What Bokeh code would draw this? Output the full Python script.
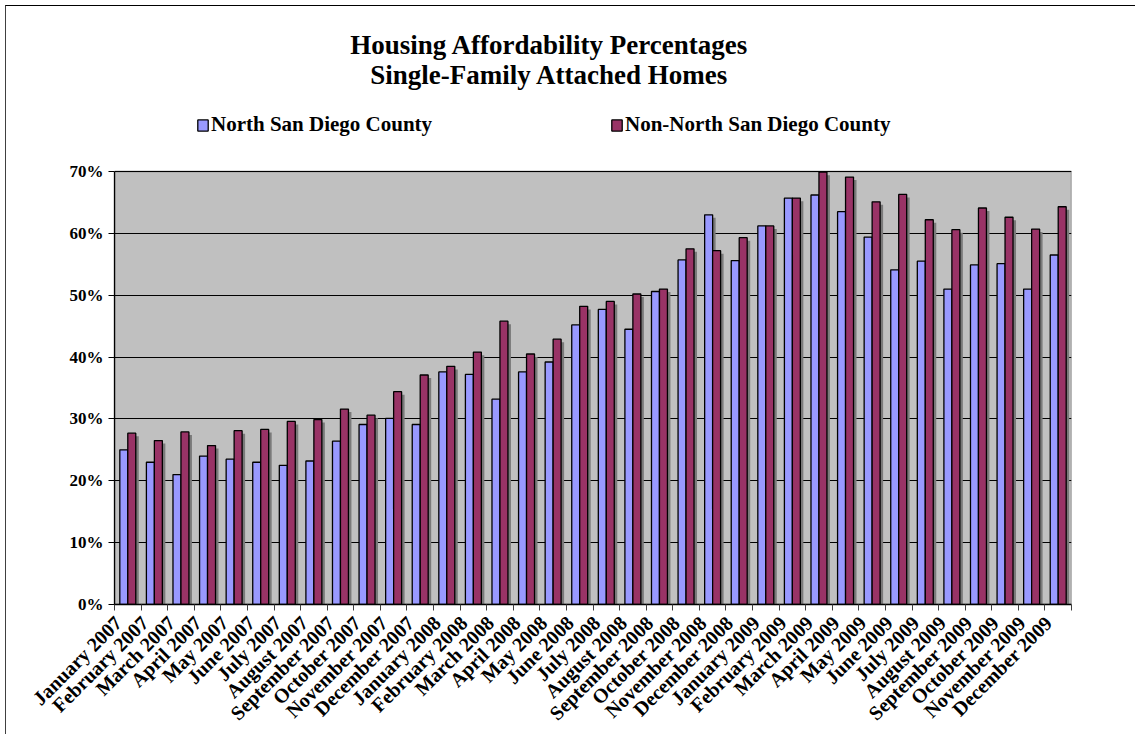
import math
from bokeh.plotting import figure
from bokeh.models import (ColumnDataSource, Range1d, FixedTicker, BoxAnnotation, Label,
                          PrintfTickFormatter, CustomJSTickFormatter, Legend, LegendItem)
from bokeh.transform import dodge
from bokeh.embed import file_html
from bokeh.resources import INLINE

months = ["January 2007", "February 2007", "March 2007", "April 2007", "May 2007", "June 2007",
          "July 2007", "August 2007", "September 2007", "October 2007", "November 2007", "December 2007",
          "January 2008", "February 2008", "March 2008", "April 2008", "May 2008", "June 2008",
          "July 2008", "August 2008", "September 2008", "October 2008", "November 2008", "December 2008",
          "January 2009", "February 2009", "March 2009", "April 2009", "May 2009", "June 2009",
          "July 2009", "August 2009", "September 2009", "October 2009", "November 2009", "December 2009"]

north = [25.0, 23.0, 21.0, 24.0, 23.5, 23.0, 22.5, 23.2, 26.4, 29.1, 30.1, 29.1,
         37.6, 37.2, 33.2, 37.6, 39.2, 45.2, 47.7, 44.5, 50.6, 55.7, 63.0, 55.6,
         61.2, 65.7, 66.2, 63.5, 59.4, 54.1, 55.5, 51.0, 54.9, 55.1, 51.0, 56.5]

non_north = [27.7, 26.5, 27.9, 25.7, 28.1, 28.3, 29.6, 29.9, 31.6, 30.6, 34.4, 37.1,
             38.5, 40.8, 45.8, 40.5, 42.9, 48.2, 49.0, 50.2, 51.0, 57.5, 57.2, 59.3,
             61.2, 65.7, 69.9, 69.1, 65.1, 66.3, 62.2, 60.6, 64.1, 62.6, 60.7, 64.3]

y_ticks = [0, 10, 20, 30, 40, 50, 60, 70]

series_names = ["North San Diego County", "Non-North San Diego County"]
title_lines = ["Housing Affordability Percentages", "Single-Family Attached Homes"]
FONT = "Liberation Serif"

n_cat = len(months)
centres = [i + 0.5 for i in range(n_cat)]
src = ColumnDataSource(dict(pos=centres, month=months, n=north, nn=non_north))

# the frame spans the whole upper area so the title and legend can live inside it;
# the grey plot area covers 0..70 % only
PLOT_H = 433      # pixel height of the 0-70 % area
FRAME_H = 598     # frame height including the title/legend area above it
y_max = y_ticks[-1]
y_top = y_max * FRAME_H / PLOT_H

p = figure(x_range=Range1d(0, n_cat), y_range=Range1d(0, y_top),
           frame_width=957, frame_height=FRAME_H,
           min_border_left=108, min_border_top=0, min_border_right=70, min_border_bottom=129,
           toolbar_location=None, output_backend="svg",
           background_fill_color="white", border_fill_color="white",
           outline_line_color=None,
           styles={"margin-left": "5px", "margin-top": "5px",
                   "border-top": "1.5px solid black", "border-left": "1px solid #404040"})

p.add_layout(BoxAnnotation(left=0, right=n_cat, bottom=0, top=y_max, level="image",
                           fill_color="#C0C0C0", fill_alpha=1.0,
                           line_color="#808080", line_width=1.5, line_alpha=1.0))

bw = 0.3
sh_dx = 0.113
# shadows
p.vbar(x=dodge("pos", -bw / 2 + sh_dx), top=dodge("n", -0.49), width=bw,
       source=src, fill_color="#7a7a7a", line_color=None)
p.vbar(x=dodge("pos", bw / 2 + sh_dx), top=dodge("nn", -0.49), width=bw,
       source=src, fill_color="#7a7a7a", line_color=None)
r1 = p.vbar(x=dodge("pos", -bw / 2), top="n", width=bw, source=src,
            fill_color="#9999FF", line_color="black", line_width=1.3)
r2 = p.vbar(x=dodge("pos", bw / 2), top="nn", width=bw, source=src,
            fill_color="#993366", line_color="black", line_width=1.3)

# x axis: labels end just left of each category centre, tick marks at category boundaries
xaxis = p.xaxis[0]
xaxis.ticker = FixedTicker(ticks=[c - 0.36 for c in centres], minor_ticks=list(range(n_cat + 1)))
xaxis.formatter = CustomJSTickFormatter(args=dict(labels=months),
                                        code="return labels[Math.floor(tick)]")
xaxis.major_tick_in = 0
xaxis.major_tick_out = 0
xaxis.minor_tick_in = 0
xaxis.minor_tick_out = 6
xaxis.minor_tick_line_color = "#404040"
xaxis.axis_line_color = "black"
xaxis.axis_line_width = 1.3
xaxis.major_label_orientation = math.pi / 4
xaxis.major_label_standoff = 9
xaxis.major_label_text_font = FONT
xaxis.major_label_text_font_style = "bold"
xaxis.major_label_text_font_size = "20px"
xaxis.major_label_text_color = "black"

yax = p.yaxis[0]
yax.ticker = FixedTicker(ticks=y_ticks)
yax.formatter = PrintfTickFormatter(format="%d%%")
yax.bounds = (0, y_max)
yax.major_tick_in = 0
yax.major_tick_out = 6
yax.minor_tick_out = 0
yax.minor_tick_in = 0
yax.axis_line_color = "black"
yax.axis_line_width = 1.3
yax.major_tick_line_color = "black"
yax.major_label_standoff = 5
yax.major_label_text_font = FONT
yax.major_label_text_font_style = "bold"
yax.major_label_text_font_size = "17px"
yax.major_label_text_color = "black"

p.xgrid.grid_line_color = None
p.ygrid.grid_line_color = "black"
p.ygrid.grid_line_width = 1.2

for item_name, rend, xloc in [(series_names[0], r1, 82), (series_names[1], r2, 496)]:
    leg = Legend(items=[LegendItem(label=item_name, renderers=[rend])], location=(xloc, 467),
                 orientation="horizontal", background_fill_alpha=0, border_line_color=None,
                 padding=0, margin=0, glyph_width=13, glyph_height=14, label_standoff=2,
                 label_text_font=FONT, label_text_font_style="bold", label_text_font_size="21px",
                 label_text_color="black", label_height=20)
    p.add_layout(leg, "center")

for txt, yy in [(title_lines[0], 560), (title_lines[1], 530)]:
    p.add_layout(Label(x=435, y=yy, x_units="screen", y_units="screen", text=txt,
                       text_align="center", text_baseline="middle", text_font=FONT,
                       text_font_style="bold", text_font_size="27px", text_color="black"))

open("out.html", "w").write(file_html(p, INLINE))
